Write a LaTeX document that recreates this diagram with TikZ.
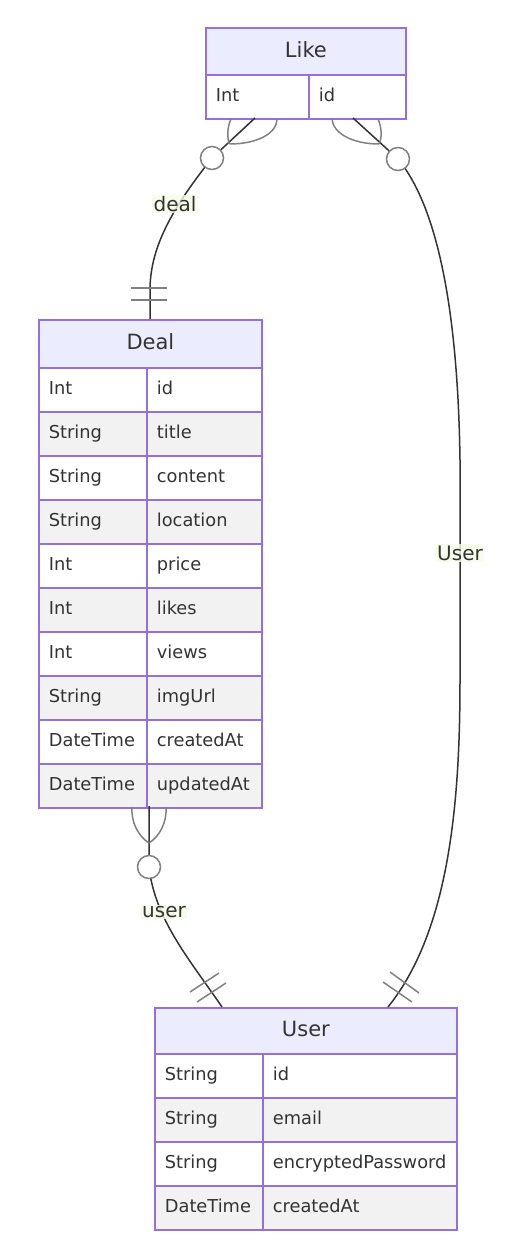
\documentclass[tikz,border=0pt]{standalone}
\usepackage{fontspec}
\setmainfont{DejaVu Sans}
\definecolor{bd}{HTML}{9370DB}
\definecolor{hdfill}{HTML}{ECECFF}
\definecolor{rowgray}{HTML}{F2F2F2}
\definecolor{txt}{HTML}{333333}
\definecolor{mk}{HTML}{808080}
\definecolor{lblbg}{HTML}{F6FBE6}
\newcommand\ercell[6]{\node[cellbox,#5,anchor=north west,text width=#4,minimum height=44] (#1) at (#2,-#3) {#6};}
\begin{document}
\begin{tikzpicture}[x=1pt,y=1pt,
  cellbox/.style={draw=bd,line width=1.8pt,inner xsep=10pt,inner ysep=0pt,align=left,text=txt,text height=13.5pt,text depth=3.5pt,font=\fontsize{17.8}{21}\selectfont},
  whiterow/.style={fill=white},
  grayrow/.style={fill=rowgray},
  hdrbox/.style={draw=bd,fill=hdfill,line width=1.8pt,inner sep=0pt,anchor=north west,text=txt,text height=16pt,text depth=4pt,font=\fontsize{21}{25}\selectfont},
  relline/.style={draw=txt,line width=1.5pt},
  mkline/.style={draw=mk,line width=1.5pt},
  ringnode/.style={circle,draw=mk,fill=white,line width=1.5pt,minimum size=23,inner sep=0pt},
  lblnode/.style={fill=lblbg,fill opacity=0.8,text opacity=1,text=txt,inner sep=1.5pt,font=\fontsize{20}{24}\selectfont}
]
\useasboundingbox (0,0) rectangle (506,-1256);
% ---------- Like ----------
\node[hdrbox,minimum width=200,minimum height=47] (like) at (205,-27) {Like};
\ercell{like1t}{205}{74}{83}{whiterow}{Int}
\ercell{like1n}{308}{74}{77}{whiterow}{id}
% ---------- Deal ----------
\node[hdrbox,minimum width=223,minimum height=48] (deal) at (38,-319) {Deal};
\ercell{d1t}{38}{367}{88}{whiterow}{Int}
\ercell{d1n}{146}{367}{95}{whiterow}{id}
\ercell{d2t}{38}{411}{88}{grayrow}{String}
\ercell{d2n}{146}{411}{95}{grayrow}{title}
\ercell{d3t}{38}{455}{88}{whiterow}{String}
\ercell{d3n}{146}{455}{95}{whiterow}{content}
\ercell{d4t}{38}{499}{88}{grayrow}{String}
\ercell{d4n}{146}{499}{95}{grayrow}{location}
\ercell{d5t}{38}{543}{88}{whiterow}{Int}
\ercell{d5n}{146}{543}{95}{whiterow}{price}
\ercell{d6t}{38}{587}{88}{grayrow}{Int}
\ercell{d6n}{146}{587}{95}{grayrow}{likes}
\ercell{d7t}{38}{631}{88}{whiterow}{Int}
\ercell{d7n}{146}{631}{95}{whiterow}{views}
\ercell{d8t}{38}{675}{88}{grayrow}{String}
\ercell{d8n}{146}{675}{95}{grayrow}{imgUrl}
\ercell{d9t}{38}{719}{88}{whiterow}{DateTime}
\ercell{d9n}{146}{719}{95}{whiterow}{createdAt}
\ercell{d10t}{38}{763}{88}{grayrow}{DateTime}
\ercell{d10n}{146}{763}{95}{grayrow}{updatedAt}
% ---------- User ----------
\node[hdrbox,minimum width=302,minimum height=46] (user) at (154,-1007) {User};
\ercell{u1t}{154}{1053}{88}{whiterow}{String}
\ercell{u1n}{262}{1053}{174}{whiterow}{id}
\ercell{u2t}{154}{1097}{88}{grayrow}{String}
\ercell{u2n}{262}{1097}{174}{grayrow}{email}
\ercell{u3t}{154}{1141}{88}{whiterow}{String}
\ercell{u3n}{262}{1141}{174}{whiterow}{encryptedPassword}
\ercell{u4t}{154}{1185}{88}{grayrow}{DateTime}
\ercell{u4n}{262}{1185}{174}{grayrow}{createdAt}
% ---------- connector end points ----------
\coordinate (la) at (255,-118);
\coordinate (lat) at (229.5,-144);
\coordinate (lac) at (212,-158);
\coordinate (dtop) at (150,-319);
\coordinate (lb) at (353,-118);
\coordinate (lbt) at (379,-144);
\coordinate (lbc) at (398,-159);
\coordinate (utopb) at (388,-1007);
\coordinate (dbot) at (149,-806);
\coordinate (dbt) at (149,-843);
\coordinate (dbc) at (149,-867);
\coordinate (utopa) at (222,-1007);
% ---------- relationship lines ----------
\draw[relline] (la) -- (lac) .. controls (175,-205) and (150,-245) .. (150,-290) -- (dtop);
\draw[relline] (lb) -- (lbc) .. controls (440,-210) and (458,-320) .. (460,-460) -- (460,-680) .. controls (460,-800) and (450,-930) .. (utopb);
\draw[relline] (dbot) -- (dbc) .. controls (155,-920) and (190,-960) .. (utopa);
% ---------- crow's feet ----------
\draw[mkline] (231,-119) .. controls (227,-128) and (227,-138) .. (lat);
\draw[mkline] (277,-119) .. controls (277,-133) and (258,-144) .. (lat);
\draw[mkline] (332,-119) .. controls (333,-133) and (352,-144) .. (lbt);
\draw[mkline] (378,-119) .. controls (382,-128) and (382,-138) .. (lbt);
\draw[mkline] (132,-807) .. controls (131,-822) and (138,-836) .. (dbt);
\draw[mkline] (166,-807) .. controls (167,-822) and (160,-836) .. (dbt);
% ---------- exactly-one bars ----------
\draw[mkline] (131,-288) -- (167,-288);
\draw[mkline] (131,-300) -- (167,-300);
\draw[mkline] (190,-992) -- (219,-973);
\draw[mkline] (197,-1002) -- (226,-983);
\draw[mkline] (390,-972) -- (419,-993);
\draw[mkline] (383,-982) -- (412,-1002);
% ---------- zero rings ----------
\node[ringnode] (ringa) at (lac) {};
\node[ringnode] (ringb) at (lbc) {};
\node[ringnode] (ringc) at (dbc) {};
% ---------- labels ----------
\node[lblnode] (lbldeal) at (175,-204) {deal};
\node[lblnode] (lbluserb) at (460,-553) {User};
\node[lblnode] (lblusera) at (164,-912) {user};
\end{tikzpicture}
\end{document}
